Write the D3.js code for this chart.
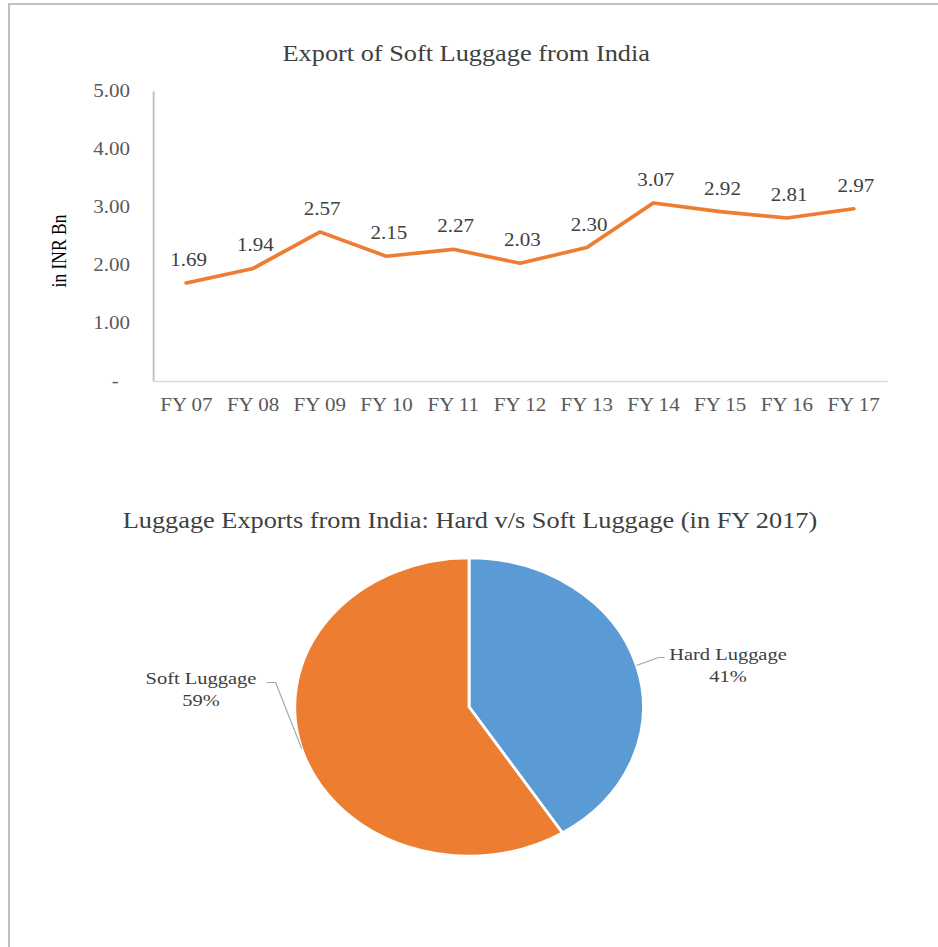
<!DOCTYPE html>
<html>

<head>
    <title>Luggage Exports from India</title>
    <script src="https://d3js.org/d3.v7.min.js"></script>
    <style>
        body { margin: 0; background: #fff; }
        text { font-family: "Liberation Serif", "Times New Roman", serif; }
    </style>
</head>

<body>
    <svg id="chart"></svg>

    <script>
        // data
        var years = ["FY 07", "FY 08", "FY 09", "FY 10", "FY 11", "FY 12", "FY 13", "FY 14", "FY 15", "FY 16", "FY 17"];
        var exportsBn = [1.69, 1.94, 2.57, 2.15, 2.27, 2.03, 2.30, 3.07, 2.92, 2.81, 2.97];
        var yTicks = [0, 1, 2, 3, 4, 5];

        var pieLabels = ["Hard Luggage", "Soft Luggage"];
        var pieShares = [41, 59];
        var pieColors = ["#5B9BD5", "#ED7D31"];

        var W = 938, H = 947;
        var sx = 1.17; // the original picture is stretched sideways

        var svg = d3.select("#chart")
            .attr("width", W)
            .attr("height", H);

        // frame (left and top edges only)
        svg.append("path")
            .attr("d", "M9,947 L9,4 L938,4")
            .attr("fill", "none")
            .attr("stroke", "#bfbfbf")
            .attr("stroke-width", 2);

        var g = svg.append("g").attr("transform", "scale(" + sx + ",1)");

        // ---------- line chart ----------
        var x = d3.scaleBand()
            .domain(years)
            .range([130.8, 758.1])
            .padding(0);

        var y = d3.scaleLinear()
            .domain([0, 5])
            .range([381, 91]);

        g.append("text")
            .attr("x", 398.5)
            .attr("y", 61)
            .attr("text-anchor", "middle")
            .attr("font-size", 22.5)
            .attr("fill", "#404040")
            .text("Export of Soft Luggage from India");

        var yAxis = g.append("g")
            .attr("transform", "translate(130.8,0)")
            .call(d3.axisLeft(y)
                .tickValues(yTicks)
                .tickSize(0)
                .tickPadding(19.7)
                .tickFormat(function(d) { return d === 0 ? "-" : d3.format(".2f")(d); }));
        yAxis.select(".domain").attr("stroke", "#bfbfbf").attr("stroke-width", 1.6);
        yAxis.selectAll("text")
            .attr("font-family", "Liberation Serif, serif")
            .attr("font-size", 18)
            .attr("fill", "#595959")
            .attr("dx", function(d) { return d === 0 ? -9.5 : 0; });

        var xAxis = g.append("g")
            .attr("transform", "translate(0,381)")
            .call(d3.axisBottom(x).tickSize(0).tickPadding(17));
        xAxis.select(".domain").attr("stroke", "#d9d9d9").attr("stroke-width", 1.6);
        xAxis.selectAll("text")
            .attr("font-family", "Liberation Serif, serif")
            .attr("font-size", 18)
            .attr("fill", "#595959");

        g.append("text")
            .attr("transform", "translate(56,251) rotate(-90)")
            .attr("text-anchor", "middle")
            .attr("font-size", 17.5)
            .attr("fill", "#000")
            .text("in INR Bn");

        var line = d3.line()
            .x(function(d, i) { return x(years[i]) + x.bandwidth() / 2; })
            .y(function(d) { return y(d); });

        g.append("path")
            .datum(exportsBn)
            .attr("d", line)
            .attr("fill", "none")
            .attr("stroke", "#ED7D31")
            .attr("stroke-width", 3.6)
            .attr("stroke-linejoin", "round")
            .attr("stroke-linecap", "round");

        g.selectAll(".val")
            .data(exportsBn)
            .enter().append("text")
            .attr("class", "val")
            .attr("x", function(d, i) { return x(years[i]) + x.bandwidth() / 2 + 2; })
            .attr("y", function(d) { return y(d) - 17; })
            .attr("text-anchor", "middle")
            .attr("font-size", 18)
            .attr("fill", "#404040")
            .text(function(d) { return d3.format(".2f")(d); });

        // ---------- pie chart ----------
        var cx = 400.9, cy = 707, r = 149;

        g.append("text")
            .attr("x", 401.7)
            .attr("y", 528)
            .attr("text-anchor", "middle")
            .attr("font-size", 22.5)
            .attr("fill", "#404040")
            .text("Luggage Exports from India: Hard v/s Soft Luggage (in FY 2017)");

        var pie = d3.pie().sort(null).value(function(d) { return d; });
        var arcs = pie(pieShares);
        var arc = d3.arc().innerRadius(0).outerRadius(r);
        var edge = d3.arc().innerRadius(r).outerRadius(r);

        var pg = g.append("g").attr("transform", "translate(" + cx + "," + cy + ")");

        pg.selectAll("path")
            .data(arcs)
            .enter().append("path")
            .attr("d", arc)
            .attr("fill", function(d, i) { return pieColors[i]; })
            .attr("stroke", "#fff")
            .attr("stroke-width", 2.5);

        // leader lines and labels
        var leader = [
            { elbow: [18.8, -8], end: [24, -8], label: [622.2 - cx, -47] },
            { elbow: [-22.2, -66], end: [-30, -66], label: [171.8 - cx, -23] }
        ];

        arcs.forEach(function(a, i) {
            var p = edge.centroid(a);
            var l = leader[i];
            pg.append("polyline")
                .attr("points", [p, [p[0] + l.elbow[0], p[1] + l.elbow[1]], [p[0] + l.end[0], p[1] + l.end[1]]].map(function(q) { return q.join(","); }).join(" "))
                .attr("fill", "none")
                .attr("stroke", "#a6a6a6")
                .attr("stroke-width", 1);

            var t = pg.append("text")
                .attr("text-anchor", "middle")
                .attr("font-size", 17.5)
                .attr("fill", "#404040");
            t.append("tspan")
                .attr("x", l.label[0])
                .attr("y", l.label[1])
                .text(pieLabels[i]);
            t.append("tspan")
                .attr("x", l.label[0])
                .attr("y", l.label[1] + 22)
                .text(pieShares[i] + "%");
        });
    </script>
</body>

</html>
